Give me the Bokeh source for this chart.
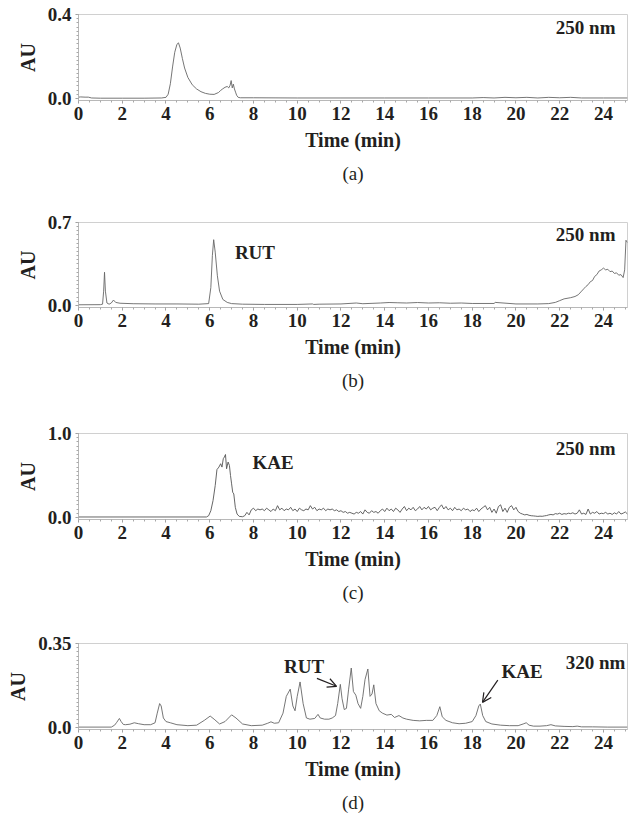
from bokeh.plotting import figure
from bokeh.models import (FixedTicker, Label, Arrow, OpenHead, Title, Range1d,
                          CustomJSTickFormatter)
from bokeh.layouts import column
from bokeh.embed import file_html
from bokeh.resources import INLINE

# ---------------- data ----------------
# (a) 250 nm
a_time = [0, 0.1, 0.3, 0.45, 0.6, 1.0, 2.0, 3.0, 3.8, 4.0, 4.1, 4.2, 4.3, 4.4, 4.5, 4.57,
          4.65, 4.75, 4.85, 5.0, 5.2, 5.4, 5.6, 5.8, 6.0, 6.2, 6.4, 6.5, 6.6, 6.7, 6.8,
          6.87, 6.93, 6.98, 7.03, 7.08, 7.13, 7.18, 7.23, 7.3, 7.4, 8.0, 10, 12, 14, 16,
          18, 18.5, 19, 19.5, 20, 20.5, 21, 21.5, 22, 22.5, 23, 24, 25.1]
a_au = [0.006, 0.007, 0.006, 0.006, 0.002, 0.001, 0.001, 0.001, 0.002, 0.005, 0.02, 0.07,
        0.15, 0.22, 0.258, 0.265, 0.24, 0.19, 0.145, 0.1, 0.065, 0.045, 0.032, 0.024,
        0.02, 0.019, 0.028, 0.038, 0.046, 0.053, 0.057, 0.05, 0.062, 0.085, 0.05, 0.068,
        0.045, 0.03, 0.015, 0.005, 0.003, 0.003, 0.002, 0.002, 0.002, 0.002, 0.002,
        0.004, 0.002, 0.005, 0.003, 0.005, 0.002, 0.005, 0.003, 0.005, 0.002, 0.002,
        0.002]

# (b) 250 nm
b_time = [0, 1.0, 1.1, 1.15, 1.19, 1.23, 1.3, 1.4, 1.5, 1.6, 1.7, 1.9, 2.5, 3.5, 4.5, 5.5,
          5.95, 6.05, 6.12, 6.18, 6.25, 6.35, 6.45, 6.6, 6.8, 7.0, 7.5, 8.5, 10, 10.7,
          10.75, 11, 12, 12.7, 13, 13.8, 14.2, 14.6, 15, 15.5, 16, 16.5, 17, 17.5, 18, 19,
          19.05, 20, 21, 21.5, 21.8, 22.0, 22.2, 22.5, 22.7, 22.85, 23.0, 23.1, 23.2, 23.3,
          23.4, 23.5, 23.6, 23.7, 23.8, 23.9, 24.0, 24.1, 24.2, 24.3, 24.4, 24.5, 24.6,
          24.7, 24.8, 24.9, 24.97, 25.03, 25.1]
b_au = [0.005, 0.006, 0.01, 0.12, 0.28, 0.12, 0.02, 0.01, 0.02, 0.045, 0.025, 0.018, 0.014,
        0.012, 0.012, 0.01, 0.015, 0.15, 0.42, 0.555, 0.45, 0.25, 0.12, 0.05, 0.025, 0.015,
        0.01, 0.008, 0.008, 0.012, 0.008, 0.01, 0.012, 0.02, 0.014, 0.02, 0.024, 0.022,
        0.02, 0.024, 0.02, 0.022, 0.018, 0.02, 0.016, 0.016, 0.025, 0.012, 0.012, 0.015,
        0.025, 0.04, 0.055, 0.065, 0.075, 0.09, 0.12, 0.14, 0.16, 0.175, 0.2, 0.21, 0.245,
        0.26, 0.29, 0.3, 0.315, 0.3, 0.305, 0.285, 0.29, 0.27, 0.275, 0.255, 0.26, 0.235,
        0.3, 0.55, 0.53]

# (c) 250 nm : main peak then the noisy baseline
c_peak_time = [0, 5.85, 5.95, 6.05, 6.15, 6.25, 6.33, 6.42, 6.5, 6.56, 6.62, 6.67, 6.72,
               6.77, 6.84, 6.9, 6.95, 7.0, 7.05, 7.1, 7.17, 7.25, 7.35, 7.5]
c_peak_au = [0.005, 0.005, 0.02, 0.08, 0.2, 0.38, 0.57, 0.6, 0.64, 0.6, 0.7, 0.72, 0.75,
             0.58, 0.66, 0.62, 0.5, 0.4, 0.3, 0.28, 0.12, 0.04, 0.012, 0.008]
c_noise_start = 7.6
c_noise_step = 0.1
c_noise_au = [0.02, 0.06, 0.03, 0.09, 0.11, 0.08, 0.10, 0.09, 0.10, 0.08, 0.11, 0.09, 0.07,
              0.10, 0.08, 0.14, 0.09, 0.11, 0.08, 0.10, 0.09, 0.12, 0.08, 0.10, 0.07, 0.11,
              0.09, 0.08, 0.10, 0.09, 0.14, 0.10, 0.12, 0.08, 0.10, 0.09, 0.11, 0.08, 0.10,
              0.09, 0.10, 0.08, 0.09, 0.07, 0.08, 0.06, 0.07, 0.05, 0.06, 0.05, 0.04, 0.06,
              0.05, 0.07, 0.04, 0.09, 0.06, 0.05, 0.08, 0.06, 0.07, 0.05, 0.08, 0.10, 0.07,
              0.11, 0.08, 0.10, 0.07, 0.11, 0.09, 0.06, 0.10, 0.13, 0.08, 0.11, 0.09, 0.12,
              0.08, 0.10, 0.13, 0.09, 0.12, 0.10, 0.13, 0.09, 0.11, 0.12, 0.08, 0.12, 0.15,
              0.10, 0.13, 0.09, 0.11, 0.08, 0.12, 0.09, 0.10, 0.08, 0.11, 0.09, 0.10, 0.07,
              0.09, 0.08, 0.11, 0.07, 0.10, 0.12, 0.14, 0.09, 0.12, 0.06, 0.10, 0.05, 0.13,
              0.15, 0.07, 0.11, 0.06, 0.12, 0.14, 0.09, 0.12, 0.07, 0.05, 0.04, 0.03, 0.035,
              0.025, 0.02, 0.018, 0.015, 0.012, 0.015, 0.013, 0.018, 0.022, 0.03, 0.035,
              0.03, 0.045, 0.04, 0.05, 0.035, 0.045, 0.04, 0.05, 0.045, 0.055, 0.04, 0.05,
              0.09, 0.04, 0.05, 0.035, 0.10, 0.04, 0.06, 0.05, 0.07, 0.04, 0.05, 0.045, 0.06,
              0.04, 0.05, 0.035, 0.055, 0.04, 0.07, 0.04, 0.05, 0.065, 0.04]

# (d) 320 nm
d_time = [0, 1.5, 1.65, 1.75, 1.87, 1.95, 2.05, 2.15, 2.35, 2.55, 2.75, 3.0, 3.3, 3.5, 3.6,
          3.71, 3.78, 3.88, 4.0, 4.2, 4.5, 5.0, 5.4, 5.75, 6.02, 6.2, 6.45, 6.7, 7.0, 7.2,
          7.5, 7.9, 8.4, 8.65, 8.8, 8.95, 9.15, 9.35, 9.5, 9.68, 9.8, 9.9, 10.0, 10.13,
          10.27, 10.42, 10.58, 10.8, 10.95, 11.05, 11.25, 11.45, 11.6, 11.75, 11.85, 11.97,
          12.05, 12.15, 12.25, 12.35, 12.47, 12.57, 12.68, 12.78, 12.9, 13.0, 13.1, 13.23,
          13.33, 13.42, 13.5, 13.6, 13.75, 13.9, 14.1, 14.3, 14.45, 14.65, 14.83, 15.0,
          15.3, 15.6, 15.9, 16.2, 16.38, 16.52, 16.63, 16.8, 17.1, 17.4, 17.7, 18.0, 18.17,
          18.3, 18.37, 18.48, 18.62, 18.9, 19.3, 19.7, 20.1, 20.33, 20.47, 20.6, 20.8, 21.1,
          21.4, 21.6, 21.8, 22.2, 22.6, 22.8, 23.0, 23.5, 24.2, 25.1]
d_au = [0.002, 0.002, 0.01, 0.022, 0.038, 0.025, 0.013, 0.012, 0.014, 0.02, 0.016, 0.012,
        0.012, 0.02, 0.06, 0.1, 0.09, 0.04, 0.025, 0.02, 0.012, 0.008, 0.01, 0.03, 0.048,
        0.035, 0.015, 0.025, 0.053, 0.04, 0.015, 0.008, 0.01, 0.018, 0.024, 0.018, 0.02,
        0.06, 0.13, 0.16, 0.09, 0.07, 0.13, 0.19, 0.1, 0.04, 0.035, 0.038, 0.055, 0.04,
        0.035, 0.035, 0.04, 0.05, 0.1, 0.18, 0.12, 0.075, 0.08, 0.16, 0.248, 0.15, 0.135,
        0.1, 0.08, 0.13, 0.2, 0.244, 0.13, 0.14, 0.178, 0.1, 0.07, 0.06, 0.052, 0.055,
        0.042, 0.05, 0.04, 0.035, 0.03, 0.028, 0.03, 0.03, 0.05, 0.087, 0.045, 0.03, 0.02,
        0.016, 0.018, 0.025, 0.05, 0.09, 0.098, 0.05, 0.025, 0.015, 0.01, 0.008, 0.008,
        0.015, 0.02, 0.01, 0.006, 0.006, 0.008, 0.012, 0.007, 0.005, 0.004, 0.006, 0.003,
        0.003, 0.002, 0.002]

x_ticks = [0, 2, 4, 6, 8, 10, 12, 14, 16, 18, 20, 22, 24]

# ---------------- styling ----------------
FONT = "Liberation Serif"
TXT = "#231f20"
TRACE = "#666666"
AXIS = "#b8b8b8"
X_END = 25.1


def y_formatter():
    return CustomJSTickFormatter(code="""
        if (tick == 0) return '0.0';
        if (Number.isInteger(tick)) return tick.toFixed(1);
        return String(Math.round(tick * 100) / 100);
    """)


def panel(caption, ytop, ymin, yminor, left, height, top, bottom, cap_offset):
    p = figure(width=628, height=height, x_range=Range1d(0, X_END),
               y_range=Range1d(ymin, ytop * 1.0005), output_backend="svg",
               toolbar_location=None, min_border_left=left, min_border_right=1,
               min_border_top=top, min_border_bottom=bottom)
    p.xgrid.visible = False
    p.ygrid.visible = False
    p.outline_line_color = "#d0d0d0"
    p.outline_line_width = 1
    p.background_fill_color = "white"
    p.border_fill_color = "white"

    xa = p.xaxis[0]
    xa.ticker = FixedTicker(ticks=x_ticks,
                            minor_ticks=[i * 0.5 for i in range(0, 51)])
    xa.axis_label = "Time (min)"
    ya = p.yaxis[0]
    ya.ticker = FixedTicker(ticks=[0, ytop],
                            minor_ticks=[i * yminor for i in range(0, int(round(ytop / yminor)) + 1)])
    ya.formatter = y_formatter()
    ya.axis_label = "AU"
    for ax in (xa, ya):
        ax.axis_line_color = AXIS
        ax.axis_line_width = 1
        ax.major_tick_line_color = "#9a9a9a"
        ax.minor_tick_line_color = "#a8a8a8"
        ax.major_tick_out = 3
        ax.major_tick_in = 0
        ax.minor_tick_out = 2
        ax.minor_tick_in = 0
        ax.major_label_text_font = FONT
        ax.major_label_text_font_style = "bold"
        ax.major_label_text_font_size = "19px"
        ax.major_label_text_color = TXT
        ax.axis_label_text_font = FONT
        ax.axis_label_text_font_style = "bold"
        ax.axis_label_text_font_size = "20px"
        ax.axis_label_text_color = TXT
    xa.major_label_standoff = 3
    xa.axis_label_standoff = 6
    ya.major_label_standoff = 4
    ya.axis_label_standoff = 6

    cap = Title(text=caption, align="center", text_font=FONT, text_font_size="19px",
                text_font_style="normal", text_color=TXT, offset=cap_offset, standoff=14)
    p.add_layout(cap, "below")
    return p


def label(p, x, y, text, align="left", size="19px"):
    p.add_layout(Label(x=x, y=y, text=text, text_font=FONT, text_font_size=size,
                       text_font_style="bold", text_color=TXT, text_align=align,
                       text_baseline="middle"))


# (a)
pa = panel("(a)", 0.4, -0.01, 0.02, 69, 210, 14, 110, -28)
pa.line(a_time, a_au, line_color=TRACE, line_width=0.9)
label(pa, 24.55, 0.34, "250 nm", "right")

# (b)
pb = panel("(b)", 0.7, -0.018, 0.035, 73, 211, 12, 114, -28)
pb.line(b_time, b_au, line_color=TRACE, line_width=0.9)
label(pb, 24.55, 0.6, "250 nm", "right")
label(pb, 7.15, 0.445, "RUT", "left")

# (c)
c_time = c_peak_time + [round(c_noise_start + i * c_noise_step, 2) for i in range(len(c_noise_au))]
c_au = c_peak_au + c_noise_au
pc = panel("(c)", 1.0, -0.025, 0.05, 74, 210, 12, 112, -28)
pc.line(c_time, c_au, line_color="#555555", line_width=0.9)
label(pc, 24.55, 0.82, "250 nm", "right")
label(pc, 7.95, 0.66, "KAE", "left")

# (d)
pd_ = panel("(d)", 0.35, -0.008, 0.0175, 78, 194, 12, 96, -28)
pd_.line(d_time, d_au, line_color=TRACE, line_width=0.9)
label(pd_, 25.0, 0.27, "320 nm", "right")
label(pd_, 9.4, 0.255, "RUT", "left")
label(pd_, 19.34, 0.235, "KAE", "left")
pd_.add_layout(Arrow(end=OpenHead(size=9, line_color=TXT, line_width=1.2),
                     x_start=10.9, y_start=0.205, x_end=11.8, y_end=0.172,
                     line_color=TXT, line_width=1.2))
pd_.add_layout(Arrow(end=OpenHead(size=9, line_color=TXT, line_width=1.2),
                     x_start=19.17, y_start=0.198, x_end=18.47, y_end=0.105,
                     line_color=TXT, line_width=1.2))

layout = column(pa, pb, pc, pd_, spacing=0)
open("out.html", "w").write(file_html(layout, INLINE))
